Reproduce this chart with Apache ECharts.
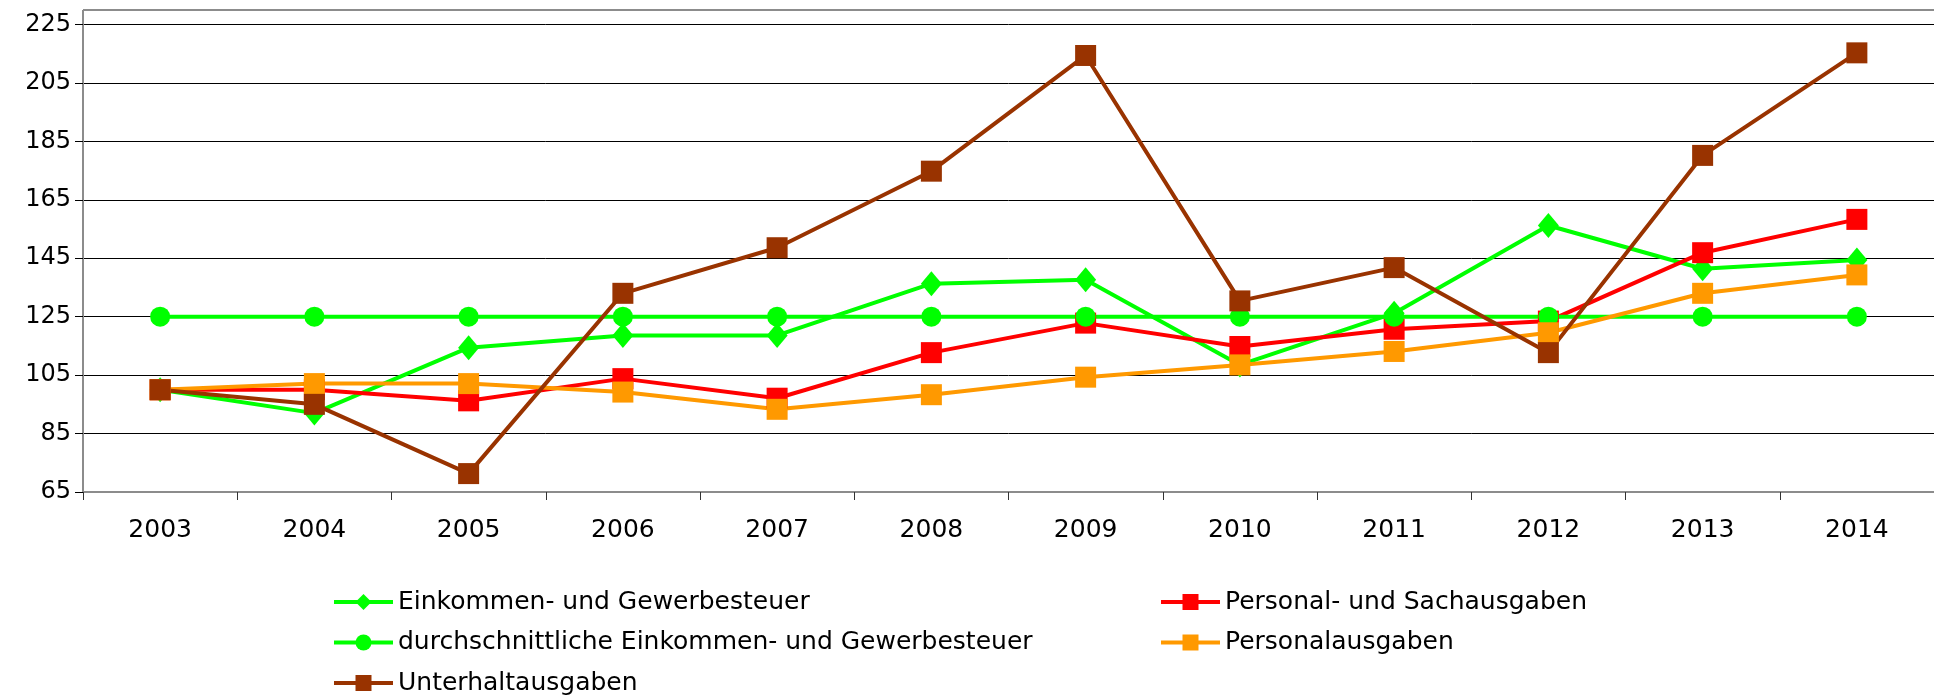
<!DOCTYPE html>
<html lang="de">
<head>
    <meta charset="UTF-8">
    <title>Entwicklung 2003-2014</title>
    <style>
        * { margin: 0; padding: 0; }
        body { background: #fff; }
        #chart { width: 1934px; height: 696px; }
    </style>
    <script src="https://cdn.jsdelivr.net/npm/echarts@6/dist/echarts.min.js"></script>
</head>
<body>
    <div id="chart"></div>
<script>
    var years = ['2003', '2004', '2005', '2006', '2007', '2008', '2009', '2010', '2011', '2012', '2013', '2014'];

    var einkommen = [100, 92, 114.4, 118.6, 118.6, 136.3, 137.6, 108.5, 126.2, 156.2, 141.4, 144.4];
    var personalSach = [100, 100, 96.2, 103.8, 97.1, 112.7, 122.8, 114.8, 120.7, 123.5, 146.9, 158.3];
    var durchschnitt = [125, 125, 125, 125, 125, 125, 125, 125, 125, 125, 125, 125];
    var personal = [100, 102.1, 102.1, 99.2, 93.3, 98.3, 104.3, 108.5, 113.1, 119.5, 133, 139.3];
    var unterhalt = [100, 95, 71.3, 133, 148.6, 174.8, 214.4, 130.4, 141.8, 112.7, 180.2, 215.3];

    var names = [
        'Einkommen- und Gewerbesteuer',
        'Personal- und Sachausgaben',
        'durchschnittliche Einkommen- und Gewerbesteuer',
        'Personalausgaben',
        'Unterhaltausgaben'
    ];

    var font = 'DejaVu Sans';

    function line(name, data, color, symbol, size) {
        return {
            name: name,
            type: 'line',
            data: data,
            symbol: symbol,
            symbolSize: size,
            showSymbol: true,
            lineStyle: { color: color, width: 4 },
            itemStyle: { color: color, opacity: 1 },
            emphasis: { disabled: true },
            animation: false
        };
    }

    var legendText = { color: '#000', fontFamily: font, fontSize: 25, lineHeight: 26 };

    // zwei Legendenspalten wie im Original
    function legendCol(left, items) {
        return {
            orient: 'vertical',
            left: left,
            top: 589,
            height: 200,
            padding: 0,
            itemWidth: 59,
            itemHeight: 20,
            itemGap: 14.5,
            lineStyle: { width: 4 },
            data: items,
            textStyle: legendText
        };
    }

    var chart = echarts.init(document.getElementById('chart'));
    chart.setOption({
        backgroundColor: '#fff',
        grid: { left: 83, top: 24.5, width: 1857, height: 467.5, containLabel: false },
        graphic: [{
            type: 'line',
            shape: { x1: 83, y1: 10, x2: 1934, y2: 10 },
            style: { stroke: '#8c8c8c', lineWidth: 2 }
        }, {
            type: 'line',
            shape: { x1: 83, y1: 10, x2: 83, y2: 25 },
            style: { stroke: '#8c8c8c', lineWidth: 2 }
        }],
        xAxis: {
            type: 'category',
            data: years,
            boundaryGap: true,
            axisLine: { lineStyle: { color: '#8c8c8c', width: 2 } },
            axisTick: { show: true, length: 8, lineStyle: { color: '#333' } },
            axisLabel: { color: '#000', fontFamily: font, fontSize: 25, margin: 26 },
            splitLine: { show: false }
        },
        yAxis: {
            type: 'value',
            min: 65,
            max: 225,
            interval: 20,
            axisLine: { show: true, lineStyle: { color: '#8c8c8c', width: 2 } },
            axisTick: { show: true, length: 8, lineStyle: { color: '#000' } },
            axisLabel: { color: '#000', fontFamily: font, fontSize: 24, margin: 12 },
            splitLine: { show: true, lineStyle: { color: '#000', width: 1 } }
        },
        legend: [
            legendCol(332, [names[0], names[2], names[4]]),
            legendCol(1159, [names[1], names[3]])
        ],
        series: [
            line(names[0], einkommen, '#00ff00', 'diamond', [21, 25]),
            line(names[1], personalSach, '#ff0000', 'rect', 21),
            line(names[2], durchschnitt, '#00ff00', 'circle', 20),
            line(names[3], personal, '#ff9900', 'rect', 21),
            line(names[4], unterhalt, '#993300', 'rect', 21)
        ]
    });
</script>
</body>
</html>
